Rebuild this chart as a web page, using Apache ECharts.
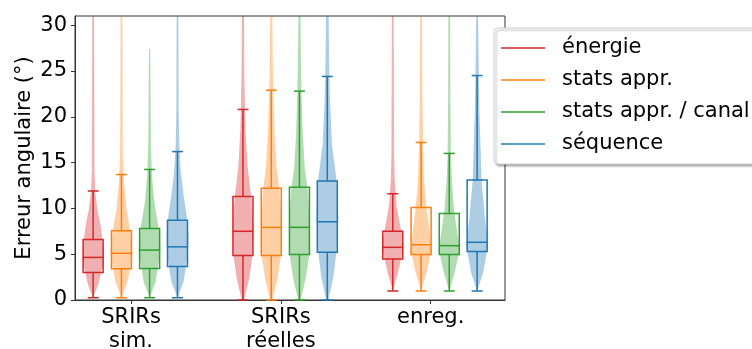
<!DOCTYPE html>
<html>
<head>
<meta charset="utf-8">
<script src="https://cdn.jsdelivr.net/npm/echarts@6/dist/echarts.min.js"></script>
<style>
  html, body { margin: 0; padding: 0; background: #fff; }
  #chart { width: 752px; height: 349px; }
</style>
</head>
<body>
<div id="chart"></div>
<script>
// catégories et méthodes
const groups = ['SRIRs\nsim.', 'SRIRs\nréelles', 'enreg.'];
const methods = ['énergie', 'stats appr.', 'stats appr. / canal', 'séquence'];
const colors = ['#d62728', '#ff7f0e', '#2ca02c', '#1f77b4'];
const yTicks = [0, 5, 10, 15, 20, 25, 30];

// boîtes : [moustache basse, q1, médiane, q3, moustache haute] par groupe
const energieBox = [[0.25, 3.0, 4.65, 6.6, 11.9], [0, 4.87, 7.5, 11.3, 20.8], [0.98, 4.47, 5.75, 7.5, 11.6]];
const statsBox = [[0.25, 3.4, 5.1, 7.56, 13.7], [0, 4.87, 7.93, 12.2, 22.9], [0.98, 4.98, 6.03, 10.1, 17.2]];
const canalBox = [[0.25, 3.45, 5.45, 7.8, 14.25], [0, 4.98, 7.93, 12.3, 22.8], [0.98, 4.98, 5.93, 9.45, 16.0]];
const sequenceBox = [[0.25, 3.65, 5.8, 8.7, 16.2], [0, 5.2, 8.54, 13.0, 24.4], [0.98, 5.3, 6.3, 13.1, 24.5]];

// violons : [valeur, densité relative]
const energieViolin = [
  [[0.25, 0], [1.8, 0.5], [4.5, 1.0], [6.5, 0.85], [8, 0.7], [9.8, 0.4], [11.7, 0.2], [14, 0.12], [31, 0.08]],
  [[0, 0.1], [2.2, 0.55], [4.7, 0.85], [7.5, 0.95], [11.3, 0.75], [14.5, 0.42], [18.2, 0.25], [21.8, 0.17], [25, 0.12], [31, 0.1]],
  [[0.98, 0], [2.9, 0.45], [5.8, 1.0], [7.3, 0.8], [10.2, 0.35], [13.1, 0.18], [16, 0.12], [31, 0.08]]
];
const statsViolin = [
  [[0.25, 0], [2, 0.55], [5, 1.0], [7.5, 0.8], [10, 0.45], [13, 0.22], [16, 0.12], [31, 0.08]],
  [[0, 0.1], [2.2, 0.55], [5, 0.9], [8, 0.95], [12, 0.75], [14.5, 0.48], [18.2, 0.3], [22, 0.2], [26, 0.13], [31, 0.1]],
  [[0.98, 0], [3, 0.5], [5.5, 0.95], [7.5, 0.75], [10, 0.5], [13, 0.28], [17, 0.18], [22, 0.12], [31, 0.08]]
];
const canalViolin = [
  [[0.25, 0], [2, 0.55], [5.5, 1.0], [8, 0.8], [10.5, 0.45], [13.5, 0.22], [17, 0.12], [27.4, 0.06]],
  [[0, 0.1], [2.2, 0.55], [5, 0.9], [8, 0.95], [12, 0.75], [14.5, 0.48], [18.2, 0.3], [22, 0.2], [26, 0.13], [31, 0.1]],
  [[0.98, 0], [3, 0.5], [5.5, 0.95], [7.5, 0.7], [10, 0.42], [13, 0.24], [16, 0.15], [22, 0.1], [31, 0.08]]
];
const sequenceViolin = [
  [[0.25, 0], [2, 0.55], [5, 0.95], [7, 1.0], [9, 0.85], [11.5, 0.55], [14, 0.3], [17, 0.16], [21, 0.1], [31, 0.08]],
  [[0, 0.1], [2.5, 0.55], [5.5, 0.85], [9, 1.0], [13, 0.85], [17, 0.42], [21.8, 0.24], [26, 0.16], [31, 0.12]],
  [[0.98, 0], [3, 0.55], [6, 1.0], [9, 0.7], [13.1, 0.4], [16.4, 0.32], [20, 0.22], [24, 0.16], [31, 0.08]]
];

const boxes = [energieBox, statsBox, canalBox, sequenceBox];
const violins = [energieViolin, statsViolin, canalViolin, sequenceViolin];

// décalage horizontal de chaque méthode dans un groupe
const offsets = [-0.253, -0.064, 0.124, 0.31];
const violinHalf = 11;
const boxHalf = 10;
const capHalf = 5.5;

function hexToRgba(hex, a) {
  const n = parseInt(hex.slice(1), 16);
  return 'rgba(' + (n >> 16) + ',' + ((n >> 8) & 255) + ',' + (n & 255) + ',' + a + ')';
}

function makeRender(k) {
  return function (params, api) {
    const i = params.dataIndex;
    const pos = i + 1 + offsets[k];
    const cx = api.coord([pos, 0])[0];
    const yOf = v => api.coord([pos, v])[1];
    const b = boxes[k][i];
    const prof = violins[k][i];
    const color = colors[k];

    const right = prof.map(p => [cx + p[1] * violinHalf, yOf(p[0])]);
    const left = prof.slice().reverse().map(p => [cx - p[1] * violinHalf, yOf(p[0])]);
    const lineStyle = { stroke: color, lineWidth: 1.5, fill: null };

    return {
      type: 'group',
      children: [
        { type: 'polygon', shape: { points: right.concat(left) },
          style: { fill: hexToRgba(color, 0.37), stroke: null } },
        { type: 'line', shape: { x1: cx, y1: yOf(b[0]), x2: cx, y2: yOf(b[1]) }, style: lineStyle },
        { type: 'line', shape: { x1: cx, y1: yOf(b[3]), x2: cx, y2: yOf(b[4]) }, style: lineStyle },
        { type: 'line', shape: { x1: cx - capHalf, y1: yOf(b[0]), x2: cx + capHalf, y2: yOf(b[0]) }, style: lineStyle },
        { type: 'line', shape: { x1: cx - capHalf, y1: yOf(b[4]), x2: cx + capHalf, y2: yOf(b[4]) }, style: lineStyle },
        { type: 'rect', shape: { x: cx - boxHalf, y: yOf(b[3]), width: boxHalf * 2, height: yOf(b[1]) - yOf(b[3]) },
          style: lineStyle },
        { type: 'line', shape: { x1: cx - boxHalf, y1: yOf(b[2]), x2: cx + boxHalf, y2: yOf(b[2]) }, style: lineStyle }
      ]
    };
  };
}

const chart = echarts.init(document.getElementById('chart'), null, { renderer: 'canvas' });

const font = 'DejaVu Sans';

const option = {
  animation: false,
  textStyle: { fontFamily: font },
  grid: {
    left: 75, right: 247, top: 16, bottom: 49,
    outerBoundsMode: 'none',
    show: true, borderColor: '#333', borderWidth: 1, backgroundColor: 'transparent'
  },
  legend: {
    orient: 'vertical',
    left: 494, top: 28,
    data: methods,
    icon: 'rect',
    itemWidth: 44, itemHeight: 1.5,
    itemGap: 10,
    padding: [9, 14, 9, 7],
    backgroundColor: '#fff',
    borderColor: '#d0d0d0', borderWidth: 1, borderRadius: 4,
    shadowColor: 'rgba(0,0,0,0.3)', shadowBlur: 2, shadowOffsetX: 2, shadowOffsetY: 2,
    selectedMode: false,
    textStyle: { fontFamily: font, fontSize: 21, color: '#000', lineHeight: 22, padding: [0, 0, 0, 12] }
  },
  xAxis: {
    type: 'value',
    min: 0.626, max: 3.496,
    splitLine: { show: false },
    axisLine: { show: true, onZero: false, lineStyle: { color: '#333' } },
    axisTick: { show: true, customValues: [1, 2, 3], length: 4, lineStyle: { color: '#333' } },
    axisLabel: {
      customValues: [1, 2, 3],
      formatter: v => groups[Math.round(v) - 1],
      fontFamily: font, fontSize: 21, color: '#000', lineHeight: 24, margin: 6
    }
  },
  yAxis: {
    type: 'value',
    min: 0, max: 31,
    name: 'Erreur angulaire (°)',
    nameLocation: 'middle',
    nameRotate: 90,
    nameGap: 40,
    nameMoveOverlap: false,
    nameTextStyle: { fontFamily: font, fontSize: 21, color: '#000' },
    splitLine: { show: false },
    axisLine: { show: true, lineStyle: { color: '#333' } },
    axisTick: { show: true, customValues: yTicks, length: 4, lineStyle: { color: '#333' } },
    axisLabel: { customValues: yTicks, fontFamily: font, fontSize: 21, color: '#000', margin: 8 }
  },
  series: methods.map((m, k) => ({
    name: m,
    type: 'custom',
    itemStyle: { color: colors[k] },
    renderItem: makeRender(k),
    encode: { x: 0, y: [1, 2, 3, 4, 5] },
    data: boxes[k].map((b, i) => [i + 1 + offsets[k]].concat(b))
  }))
};

chart.setOption(option);
</script>
</body>
</html>
